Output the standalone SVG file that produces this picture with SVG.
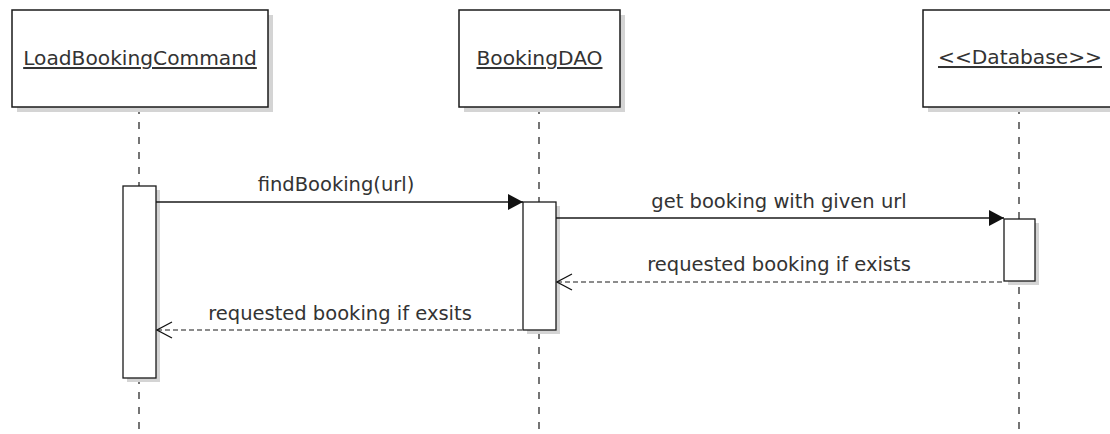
<svg xmlns="http://www.w3.org/2000/svg" width="1110" height="434" viewBox="0 0 1110 434">
<defs>
<style>
.shadow{fill:#d4d4d4;stroke:none}
.box{fill:#fff;stroke:#1a1a1a;stroke-width:1.5}
.act{fill:#fff;stroke:#1a1a1a;stroke-width:1.3}
.life{stroke:#1a1a1a;stroke-width:1.2;stroke-dasharray:7,8;fill:none}
.msg{stroke:#1a1a1a;stroke-width:1.3;fill:none}
.ret{stroke:#1a1a1a;stroke-width:1.2;fill:none;stroke-dasharray:5,3}
.name{font-family:"DejaVu Sans",sans-serif;font-size:20.2px;fill:#333;text-anchor:middle;text-decoration:underline}
.lbl{font-family:"DejaVu Sans",sans-serif;font-size:19.5px;fill:#333;text-anchor:middle}
</style>
<marker id="filled" markerWidth="16" markerHeight="18" refX="15" refY="8" orient="auto" markerUnits="userSpaceOnUse">
<path d="M0,0 L15,8 L0,16 Z" fill="#111"/>
</marker>
<marker id="open" markerWidth="18" markerHeight="20" refX="1" refY="9" orient="auto" markerUnits="userSpaceOnUse">
<path d="M16,1 L1,9 L16,17" fill="none" stroke="#111" stroke-width="1.2"/>
</marker>
</defs>
<g id="lifelines">
<line class="life" x1="139" y1="107" x2="139" y2="434"/>
<line class="life" x1="539" y1="107" x2="539" y2="434"/>
<line class="life" x1="1019" y1="107" x2="1019" y2="434"/>
</g>
<g id="LoadBookingCommand">
<rect class="shadow" x="17" y="15" width="256" height="97"/>
<rect class="box" x="12" y="10" width="256" height="97"/>
<text class="name" x="140" y="65">LoadBookingCommand</text>
</g>
<g id="BookingDAO">
<rect class="shadow" x="464" y="15" width="161" height="97"/>
<rect class="box" x="459" y="10" width="161" height="97"/>
<text class="name" x="539.5" y="65">BookingDAO</text>
</g>
<g id="Database">
<rect class="shadow" x="928" y="15" width="192" height="97"/>
<rect class="box" x="923" y="10" width="195" height="97"/>
<text class="name" x="1020" y="64">&lt;&lt;Database&gt;&gt;</text>
</g>
<g id="activation-LoadBookingCommand">
<rect class="shadow" x="127" y="190" width="33" height="192"/>
<rect class="act" x="123" y="186" width="33" height="192"/>
</g>
<g id="activation-BookingDAO">
<rect class="shadow" x="527" y="206" width="33" height="128"/>
<rect class="act" x="523" y="202" width="33" height="128"/>
</g>
<g id="activation-Database">
<rect class="shadow" x="1008" y="223" width="31" height="62"/>
<rect class="act" x="1004" y="219" width="31" height="62"/>
</g>
<g id="connectors">
<line class="msg" x1="156" y1="202" x2="523" y2="202" marker-end="url(#filled)"/>
<text class="lbl" x="336" y="191">findBooking(url)</text>
<line class="msg" x1="556" y1="218" x2="1004" y2="218" marker-end="url(#filled)"/>
<text class="lbl" x="779" y="208">get booking with given url</text>
<line class="ret" x1="557" y1="282" x2="1004" y2="282" marker-start="url(#open)"/>
<text class="lbl" x="779" y="271">requested booking if exists</text>
<line class="ret" x1="157" y1="330" x2="523" y2="330" marker-start="url(#open)"/>
<text class="lbl" x="340" y="320">requested booking if exsits</text>
</g>
</svg>
